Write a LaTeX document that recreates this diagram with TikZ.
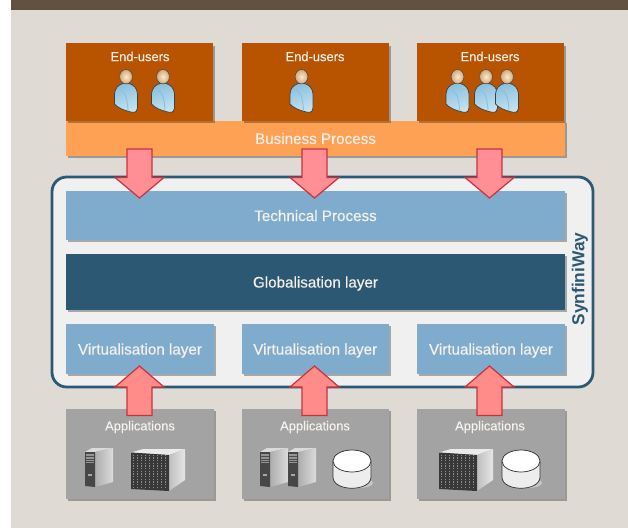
\documentclass[tikz,border=0pt]{standalone}
\usepackage{fontspec}
\setmainfont{Liberation Sans}
\newfontfamily\semi{Liberation Sans}[FakeBold=0.25]
\usetikzlibrary{shadows}
\definecolor{pagebg}{HTML}{E0DAD5}
\definecolor{headbar}{HTML}{635140}
\definecolor{rust}{HTML}{B85300}
\definecolor{orangeb}{HTML}{FFA155}
\definecolor{paleblue}{HTML}{7FACCD}
\definecolor{deepblue}{HTML}{2D5873}
\definecolor{greyb}{HTML}{A3A3A3}
\definecolor{panel}{HTML}{F0F0F1}
\definecolor{arrowfill}{HTML}{FF8F94}
\definecolor{arrowfillb}{HTML}{FF8C88}
\definecolor{arrowline}{HTML}{C8323F}
\definecolor{txtl}{HTML}{F6F1EC}
\definecolor{bodyl}{HTML}{C4E4F2}
\definecolor{bodyd}{HTML}{8CC0DE}
\definecolor{skinl}{HTML}{FAEAD2}
\definecolor{skind}{HTML}{D6A878}
\tikzset{
  boxbase/.style={rectangle,inner sep=0pt,outer sep=0pt,text=txtl,font=\semi\fontsize{11.4pt}{13pt}\selectfont,
    text depth=0pt,drop shadow={shadow xshift=1.6pt,shadow yshift=-1.6pt,fill=black,opacity=.3}},
  rustbox/.style={boxbase,fill=rust},
  orangebox/.style={boxbase,fill=orangeb},
  bluebox/.style={boxbase,fill=paleblue},
  deepbox/.style={boxbase,fill=deepblue},
  greybox/.style={boxbase,fill=greyb},
  caption/.style={inner sep=0pt,text=txtl,font=\semi\fontsize{9.7pt}{11pt}\selectfont},
  blockarrow/.style={fill=arrowfill,draw=arrowline,line width=.9pt,line join=miter},
  blockarrowup/.style={blockarrow,fill=arrowfillb},
}
\newcommand\rbox[7]{\node[#6,minimum width={(#4-#2)*0.75pt},minimum height={(#5-#3)*0.75pt}] (#1) at ({(#2+#4)/2},{(#3+#5)/2}) {#7};}
\newcommand\myperson[1]{\begin{scope}[shift={(#1,0)}]
  \draw[draw=black!75,line width=.55pt,left color=bodyd,right color=bodyl,shading angle=20]
    (-3,83.5) .. controls (-8,85) and (-11,88) .. (-11.5,94)
    -- (-11.5,104) .. controls (-8,108) and (-3,110) .. (6,112.3)
    .. controls (10,112.6) and (11.5,111) .. (11.5,108)
    -- (11.5,94) .. controls (11,88) and (8,85) .. (3,83.5) -- cycle;
  \draw[bodyd,line width=.7pt] (-6,90) .. controls (-2,92) and (1,94) .. (2,110);
  \shade[inner color=skinl,outer color=skind,draw=black!70,line width=.45pt] (0,76.7) ellipse (6.4 and 7.2);
\end{scope}}
\newcommand\mytower[1]{\begin{scope}[shift={(#1,0)}]
  \fill[black!14] (0,452) -- (7,448) -- (28,448) -- (10,452) -- cycle;
  \shade[left color=black!32,right color=black!14] (10,452) -- (28,448) -- (28,482) -- (10,487) -- cycle;
  \fill[black!72] (0,452) -- (10,452) -- (10,487) -- (0,486) -- cycle;
  \fill[black!42] (1,454) rectangle (9,463);
  \draw[black!70,line width=.3pt] (1,456.5) -- (9,456.5) (1,459) -- (9,459) (1,461.5) -- (9,461.5);
  \fill[black!35] (3,474) rectangle (7,476);
\end{scope}}
\newcommand\myblade[1]{\begin{scope}[shift={(#1,0)}]
  \fill[black!8] (1,452.5) -- (13,449) -- (55,449) -- (39,455) -- cycle;
  \shade[left color=black!25,right color=black!10] (39,455) -- (55,449) -- (55,480) -- (39,491) -- cycle;
  \fill[black!78] (1,452.5) -- (39,455) -- (39,491) -- (1,489) -- cycle;
  \foreach \i in {0,...,8}{\draw[black!45,line width=.55pt,dash pattern=on 1pt off 1pt] ({3+\i*4.1},454.5) -- ({3+\i*4.1},488.5);}
\end{scope}}
\newcommand\mydisk[1]{\begin{scope}[shift={(#1,0)}]
  \fill[black!22] (26,483) ellipse (14 and 5);
  \draw[black!80,line width=.55pt,fill=black!7] (0,461) -- (0,477) .. controls (0,492) and (38,492) .. (38,477) -- (38,461) -- cycle;
  \draw[black!80,line width=.55pt,fill=white] (19,461) ellipse (19 and 11);
\end{scope}}
\begin{document}
\begin{tikzpicture}[x=0.75pt,y=-0.75pt]
\useasboundingbox (0,0) rectangle (628,528);
\fill[white] (0,0) rectangle (628,528);
\fill[pagebg] (11,0) rectangle (628,528);
\fill[headbar] (11,0) rectangle (628,9.7);

% end users and business process
\rbox{biz}{66}{120.5}{564.5}{156}{orangebox}{}
\node[inner sep=0pt,text=txtl,font=\semi\fontsize{11.4pt}{13pt}\selectfont] (biztext) at (315.5,138.5) {Business Process};
\rbox{euA}{66}{43.5}{213}{120.5}{rustbox}{}
\rbox{euB}{241.5}{43.5}{389}{120.5}{rustbox}{}
\rbox{euC}{417}{43.5}{564}{120.5}{rustbox}{}
\node[caption] (euAt) at (140,56.5) {End-users};
\node[caption] (euBt) at (315,56.5) {End-users};
\node[caption] (euCt) at (490,56.5) {End-users};
\myperson{126}\myperson{163}
\myperson{301.5}
\myperson{457.5}\myperson{486}\myperson{507}

% SynfiniWay panel
\node[rectangle,rounded corners=11pt,draw=deepblue,line width=2.1pt,fill=panel,inner sep=0pt,
  minimum width={541*0.75pt},minimum height={210*0.75pt}] (panel) at (322.5,282) {};
\node[rotate=90,inner sep=0pt,text=deepblue,font=\fontsize{13pt}{14pt}\bfseries\selectfont] (synf) at (580,279) {SynfiniWay};
\rbox{tech}{66}{191}{565}{240}{bluebox}{Technical Process}
\rbox{glob}{66}{254}{565}{310}{deepbox}{Globalisation layer}
\rbox{virtA}{66}{324}{214}{374}{bluebox}{Virtualisation layer}
\rbox{virtB}{241.5}{324}{389}{374}{bluebox}{Virtualisation layer}
\rbox{virtC}{417}{324}{565}{374}{bluebox}{Virtualisation layer}

% applications
\rbox{appA}{66}{409}{214}{499}{greybox}{}
\rbox{appB}{241.5}{409}{389}{499}{greybox}{}
\rbox{appC}{417}{409}{565}{499}{greybox}{}
\node[caption] (appAt) at (140,427) {Applications};
\node[caption] (appBt) at (315,427) {Applications};
\node[caption] (appCt) at (490,427) {Applications};
\mytower{85}\myblade{130}
\mytower{260}\mytower{288}\mydisk{333}
\myblade{438}\mydisk{502}

% block arrows between the layers
\foreach \cx in {139.5,314.5,489.5}{
  \draw[blockarrow] (\cx-12.5,149) -- (\cx+12.5,149) -- (\cx+12.5,177.5) -- (\cx+24.5,177.5)
    -- (\cx,198) -- (\cx-24.5,177.5) -- (\cx-12.5,177.5) -- cycle;
  \draw[blockarrowup] (\cx-12.5,415.5) -- (\cx+12.5,415.5) -- (\cx+12.5,387) -- (\cx+24.5,387)
    -- (\cx,366) -- (\cx-24.5,387) -- (\cx-12.5,387) -- cycle;
}
\end{tikzpicture}
\end{document}
